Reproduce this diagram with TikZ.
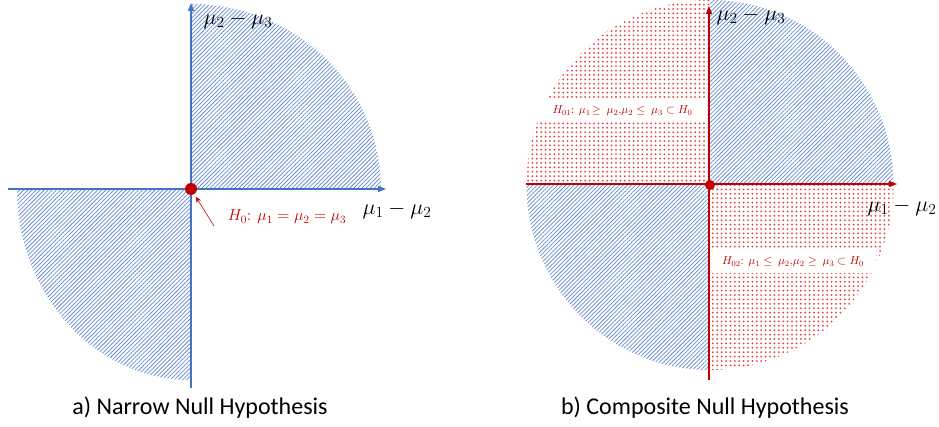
\documentclass[tikz,border=0pt]{standalone}
\usepackage{fix-cm}
\usepackage{fontspec}
\setmainfont{Carlito}
\usetikzlibrary{patterns.meta,arrows.meta}
\definecolor{hblue}{RGB}{68,114,196}
\definecolor{lblue}{RGB}{98,138,210}
\definecolor{hred}{RGB}{192,0,0}
\definecolor{dred}{RGB}{232,60,60}
\tikzset{
  bluehatch/.style={pattern={Lines[angle=45,distance=2.9pt,line width=0.75pt]}, pattern color=lblue},
  reddots/.style={pattern={Dots[distance=4.4pt,radius=1pt]}, pattern color=dred},
  axisL/.style={hblue, line width=1.3pt, -{Triangle[length=8pt,width=6pt]}},
  axisR/.style={hred, line width=1.3pt, -{Triangle[length=8pt,width=6pt]}},
  dotnode/.style={circle, fill=hred, inner sep=0pt, outer sep=0pt},
  axlab/.style={font=\fontsize{22}{22}\selectfont, inner sep=0pt},
  redlab/.style={text=hred, font=\fontsize{16}{16}\selectfont},
  boxlab/.style={fill=white, text=hred, font=\fontsize{11.5}{11.5}\selectfont, inner sep=0pt},
  caption/.style={font=\fontsize{24}{24}\selectfont}
}
\begin{document}
\begin{tikzpicture}[x=1pt,y=1pt]
\useasboundingbox (0,0) rectangle (939,427);
% ---------- left panel ----------
\coordinate (OL) at (191,238);
\fill[bluehatch] (OL) -- ++(190,0) arc[start angle=0,end angle=90,x radius=190,y radius=185] -- cycle;
\fill[bluehatch] (OL) -- ++(-174,0) arc[start angle=180,end angle=270,x radius=174,y radius=191] -- cycle;
\coordinate (xL0) at (8,238);
\coordinate (xL1) at (386,238);
\coordinate (yL0) at (191,39);
\coordinate (yL1) at (191,424);
\draw[axisL] (xL0) -- (xL1);
\draw[axisL] (yL0) -- (yL1);
\node[dotnode, minimum size=12pt] (dotL) at (OL) {};
\node[redlab] (h0) at (287,210) {$H_0\colon\ \mu_1=\mu_2=\mu_3$};
\coordinate (arrS) at (214,201);
\draw[hred, line width=0.6pt, -{Stealth[length=6pt,width=5pt]}, shorten >=3pt] (arrS) -- (dotL);
\node[axlab] (ylabL) at (238,407) {$\mu_2-\mu_3$};
\node[axlab] (xlabL) at (397,217) {$\mu_1-\mu_2$};
% ---------- right panel ----------
\coordinate (OR) at (710,242);
\fill[bluehatch] (OR) -- ++(183.5,0) arc[start angle=0,end angle=90,x radius=183.5,y radius=185] -- cycle;
\fill[reddots] (OR) -- ++(0,185) arc[start angle=90,end angle=180,x radius=183.5,y radius=185] -- cycle;
\fill[bluehatch] (OR) -- ++(-183.5,0) arc[start angle=180,end angle=270,x radius=183.5,y radius=185] -- cycle;
\fill[reddots] (OR) -- ++(0,-185) arc[start angle=270,end angle=360,x radius=183.5,y radius=185] -- cycle;
\node[boxlab, minimum width=165pt, minimum height=22pt] (h01) at (622.5,316) {$H_{01}\colon\ \mu_1\!\geq\ \mu_2,\!\mu_2\leq\ \mu_3\subset H_0$};
\node[boxlab, minimum width=166pt, minimum height=23pt] (h02) at (793,165) {$H_{02}\colon\ \mu_1\leq\ \mu_2,\!\mu_2\geq\ \mu_3\subset H_0$};
\coordinate (xR0) at (526,243);
\coordinate (xR1) at (897,243);
\coordinate (yR0) at (709,47);
\coordinate (yR1) at (709,421);
\draw[axisR] (xR0) -- (xR1);
\draw[axisR] (yR0) -- (yR1);
\node[dotnode, minimum size=10pt] (dotR) at (OR) {};
\node[axlab] (ylabR) at (751,411) {$\mu_2-\mu_3$};
\node[axlab] (xlabR) at (902,220) {$\mu_1-\mu_2$};
% ---------- captions ----------
\node[caption] (capA) at (200,19) {a) Narrow Null Hypothesis};
\node[caption] (capB) at (705,19) {b) Composite Null Hypothesis};
\end{tikzpicture}
\end{document}
